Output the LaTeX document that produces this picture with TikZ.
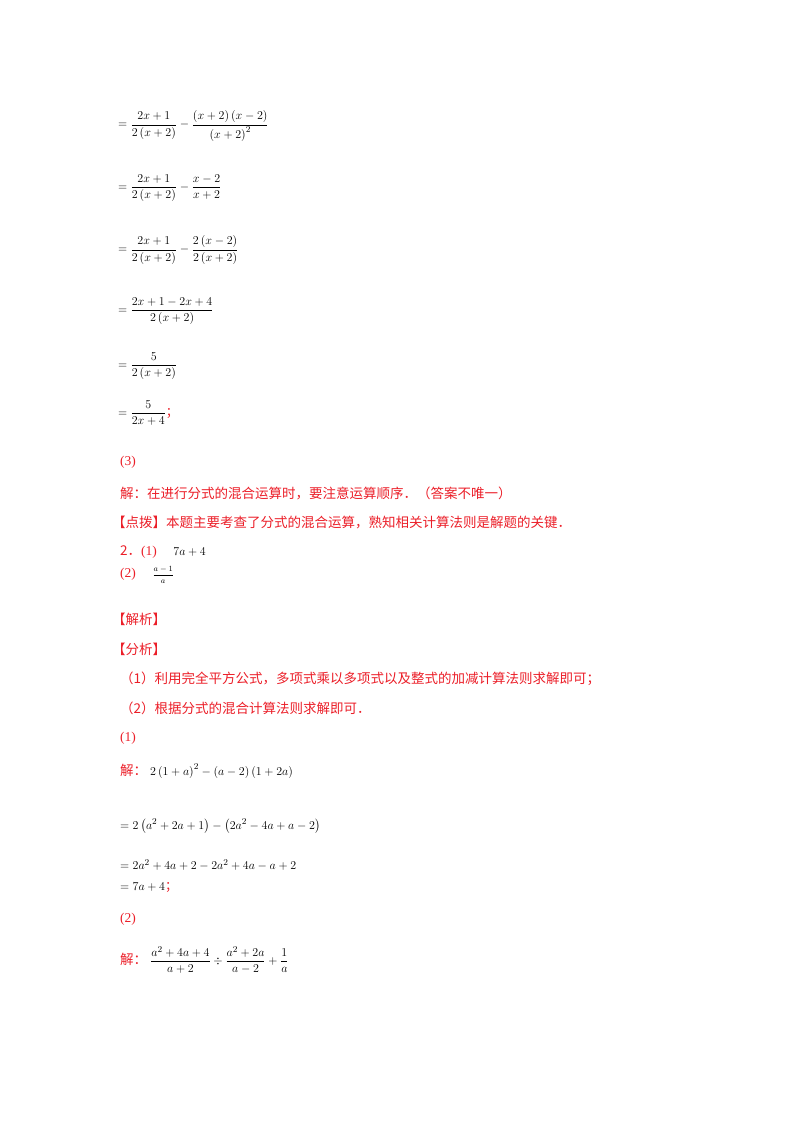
\documentclass[tikz,border=0pt]{standalone}
\usepackage{amsmath}
\usepackage{fontspec}
\setmainfont{Liberation Serif}
\newfontfamily\cjk{Noto Sans CJK SC}
\definecolor{rd}{RGB}{235,30,40}
\begin{document}
\begin{tikzpicture}[x=1pt,y=-1pt]
\tikzset{ln/.style={anchor=west,inner sep=0pt,font=\fontsize{12.6}{15}\selectfont},
 rt/.style={ln,text=rd,font=\fontsize{13.5}{15}\selectfont\cjk}}
\useasboundingbox (0,0) rectangle (800,1132);
\node[ln] (l1) at (118,126) {$=\dfrac{2x+1}{2\left(x+2\right)}-\dfrac{\left(x+2\right)\left(x-2\right)}{\left(x+2\right)^2}$};
\node[ln] (l2) at (118,188) {$=\dfrac{2x+1}{2\left(x+2\right)}-\dfrac{x-2}{x+2}$};
\node[ln] (l3) at (118,250) {$=\dfrac{2x+1}{2\left(x+2\right)}-\dfrac{2\left(x-2\right)}{2\left(x+2\right)}$};
\node[ln] (l4) at (118,311) {$=\dfrac{2x+1-2x+4}{2\left(x+2\right)}$};
\node[ln] (l5) at (118,366) {$=\dfrac{5}{2\left(x+2\right)}$};
\node[ln] (l6) at (118,413) {$=\dfrac{5}{2x+4}$\textcolor{rd}{\cjk ；}};
\node[rt] (p3) at (120,462) {\rmfamily(3)};
\node[rt] (s3) at (120,493) {解：在进行分式的混合运算时，要注意运算顺序．（答案不唯一）};
\node[rt] (db) at (112,523) {【点拨】本题主要考查了分式的混合运算，熟知相关计算法则是解题的关键．};
\node[rt] (q2) at (120,552) {2．{\rmfamily(1)}\quad\ \textcolor{black}{\fontsize{13}{15}\selectfont$7a+4$}};
\node[rt] (q22) at (120,575) {{\rmfamily(2)}\quad\ \textcolor{black}{\fontsize{8.5}{10}\selectfont$\dfrac{a-1}{a}$}};
\node[rt] (jx) at (112,619) {【解析】};
\node[rt] (fx) at (112,649) {【分析】};
\node[rt] (f1) at (120,679) {（1）利用完全平方公式，多项式乘以多项式以及整式的加减计算法则求解即可；};
\node[rt] (f2) at (120,708) {（2）根据分式的混合计算法则求解即可．};
\node[rt] (a1) at (120,738) {\rmfamily(1)};
\node[rt] (j1) at (120,771) {解：\ \textcolor{black}{\fontsize{13}{15}\selectfont$2\left(1+a\right)^2-\left(a-2\right)\left(1+2a\right)$}};
\node[ln] (e1) at (120,826) {$=2\left(a^2+2a+1\right)-\left(2a^2-4a+a-2\right)$};
\node[ln] (e2) at (120,865) {$=2a^2+4a+2-2a^2+4a-a+2$};
\node[ln] (e3) at (120,887) {$=7a+4$\textcolor{rd}{\cjk ；}};
\node[rt] (a2) at (120,919) {\rmfamily(2)};
\node[rt] (j2) at (120,960) {解：\ \textcolor{black}{\fontsize{12.6}{15}\selectfont$\dfrac{a^2+4a+4}{a+2}\div\dfrac{a^2+2a}{a-2}+\dfrac{1}{a}$}};
\end{tikzpicture}
\end{document}
